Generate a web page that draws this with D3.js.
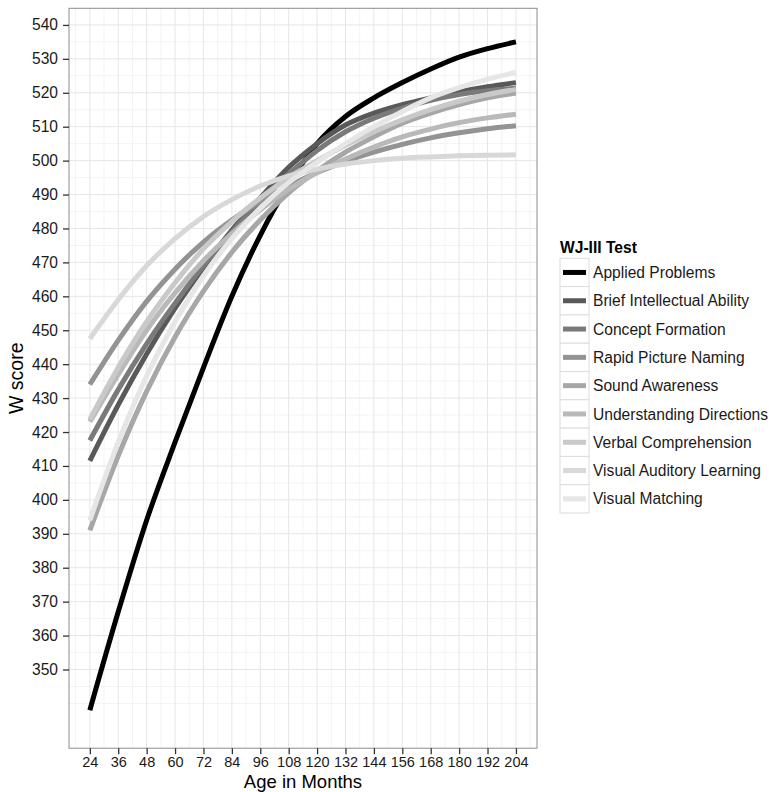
<!DOCTYPE html>
<html>
<head>
<meta charset="utf-8">
<script src="https://cdn.jsdelivr.net/npm/d3@7"></script>
<style>
  body { margin: 0; background: #fff; }
  svg { font-family: 'Liberation Sans', Arial, sans-serif; }
</style>
</head>
<body>
<div id="chart"></div>
<script>
const ages = [24, 36, 48, 60, 72, 84, 96, 108, 120, 132, 144, 156, 168, 180, 192, 204]

const tests = [
  'Applied Problems',
  'Brief Intellectual Ability',
  'Concept Formation',
  'Rapid Picture Naming',
  'Sound Awareness',
  'Understanding Directions',
  'Verbal Comprehension',
  'Visual Auditory Learning',
  'Visual Matching'
]

const appliedProblems = [338, 367, 394, 417, 439, 460, 478, 493, 505, 513, 518.5, 523, 527, 530.5, 533, 535]
const briefIntellectual = [411.5, 428, 443, 456.5, 468.5, 479.5, 489, 498, 505, 510.5, 514, 516.5, 518.5, 520.3, 521.8, 523]
const conceptFormation = [417.5, 432.5, 446, 458, 469, 479, 488, 496, 503, 508.5, 512.5, 515.5, 517.8, 519.5, 520.6, 521.3]
const rapidPictureNaming = [434, 447, 458.5, 468, 476, 482.5, 488, 492.5, 496.5, 499.8, 502.5, 504.8, 506.7, 508.2, 509.4, 510.3]
const soundAwareness = [391, 413, 432, 448, 461.5, 473, 482.5, 490.5, 497, 502.5, 507, 511, 514, 516.5, 518.5, 519.9]
const understandingDirections = [423, 437, 450, 461, 470.5, 478.5, 485.5, 491.5, 496.5, 500.5, 504, 507, 509.3, 511.2, 512.6, 513.7]
const verbalComprehension = [423.7, 439, 452.5, 464, 474, 482, 489, 495, 500, 504.5, 508.5, 512, 515, 517.5, 519.5, 521]
const visualAuditory = [447.5, 459, 469, 477, 483.5, 488.5, 492.5, 495.5, 497.5, 499, 500, 500.7, 501.1, 501.4, 501.6, 501.7]
const visualMatching = [394, 417, 436.5, 452.5, 466, 477, 486, 493.5, 499.5, 505, 510, 514.5, 518.5, 521.5, 524, 526]

const seriesValues = [appliedProblems, briefIntellectual, conceptFormation, rapidPictureNaming,
  soundAwareness, understandingDirections, verbalComprehension, visualAuditory, visualMatching]

const xTicks = d3.range(24, 205, 12)
const yTicks = d3.range(350, 541, 10)

const width = 769
const height = 792

const svg = d3.select('#chart')
  .append('svg')
  .attr('width', width)
  .attr('height', height)

const x = d3.scaleLinear().domain([15.2, 212.9]).range([69, 537])
const y = d3.scaleLinear().domain([326.8, 544.9]).range([748.2, 8.3])

// grey palette like scale_colour_grey(start = 0, end = 0.9)
const colour = d3.scaleOrdinal()
  .domain(tests)
  .range(tests.map((t, i) => {
    const g = Math.pow(i / (tests.length - 1) * Math.pow(0.9, 2.2), 1 / 2.2)
    return d3.rgb(g * 255, g * 255, g * 255).formatHex()
  }))

// panel grid
const minorX = d3.range(18, 212, 6).filter(v => v % 12 !== 0)
const minorY = d3.range(340, 545, 5).filter(v => v % 10 !== 0 || v === 340)

const grid = svg.append('g')
grid.selectAll('.minx').data(minorX).enter().append('line')
  .attr('x1', d => x(d)).attr('x2', d => x(d))
  .attr('y1', y.range()[0]).attr('y2', y.range()[1])
  .attr('stroke', '#f3f3f3')
grid.selectAll('.miny').data(minorY).enter().append('line')
  .attr('y1', d => y(d)).attr('y2', d => y(d))
  .attr('x1', x.range()[0]).attr('x2', x.range()[1])
  .attr('stroke', '#f3f3f3')
grid.selectAll('.majx').data(xTicks).enter().append('line')
  .attr('x1', d => x(d)).attr('x2', d => x(d))
  .attr('y1', y.range()[0]).attr('y2', y.range()[1])
  .attr('stroke', '#e6e6e6')
grid.selectAll('.majy').data(yTicks).enter().append('line')
  .attr('y1', d => y(d)).attr('y2', d => y(d))
  .attr('x1', x.range()[0]).attr('x2', x.range()[1])
  .attr('stroke', '#e6e6e6')

// curves
const line = d3.line()
  .x(d => x(d[0]))
  .y(d => y(d[1]))
  .curve(d3.curveMonotoneX)

svg.append('g')
  .selectAll('path')
  .data(tests.map((t, i) => ({ name: t, values: ages.map((a, j) => [a, seriesValues[i][j]]) })))
  .enter()
  .append('path')
  .attr('d', d => line(d.values))
  .attr('fill', 'none')
  .attr('stroke', d => colour(d.name))
  .attr('stroke-width', 5)

// panel border
svg.append('rect')
  .attr('x', x.range()[0])
  .attr('y', y.range()[1])
  .attr('width', x.range()[1] - x.range()[0])
  .attr('height', y.range()[0] - y.range()[1])
  .attr('fill', 'none')
  .attr('stroke', '#8c8c8c')
  .attr('stroke-width', 1)

// axes
const xAxis = svg.append('g')
  .attr('transform', 'translate(0,' + y.range()[0] + ')')
  .call(d3.axisBottom(x).tickValues(xTicks).tickSize(6).tickPadding(3))
const yAxis = svg.append('g')
  .attr('transform', 'translate(' + x.range()[0] + ',0)')
  .call(d3.axisLeft(y).tickValues(yTicks).tickSize(6).tickPadding(5))

xAxis.select('.domain').remove()
yAxis.select('.domain').remove()
svg.selectAll('.tick line').attr('stroke', '#333').attr('stroke-width', 1.3)
svg.selectAll('.tick text')
  .attr('fill', '#1a1a1a')
  .style('font-size', '14.5px')
  .style('font-family', "'Liberation Sans', Arial, sans-serif")
yAxis.selectAll('.tick text').style('font-size', '15.6px')

// axis titles
svg.append('text')
  .attr('x', (x.range()[0] + x.range()[1]) / 2)
  .attr('y', 787.5)
  .attr('text-anchor', 'middle')
  .style('font-size', '18.5px')
  .text('Age in Months')

svg.append('text')
  .attr('transform', 'translate(22.5,' + (y.range()[0] + y.range()[1]) / 2 + ') rotate(-90)')
  .attr('text-anchor', 'middle')
  .style('font-size', '19.5px')
  .text('W score')

// legend
const legend = svg.append('g').attr('transform', 'translate(560,258.3)')

legend.append('text')
  .attr('x', 0)
  .attr('y', -5)
  .style('font-size', '15.6px')
  .style('font-weight', 'bold')
  .text('WJ-III Test')

const keyH = 28.3
const rows = legend.selectAll('.key')
  .data(tests)
  .enter()
  .append('g')
  .attr('transform', (d, i) => 'translate(0,' + i * keyH + ')')

rows.append('rect')
  .attr('width', 29)
  .attr('height', keyH)
  .attr('fill', '#fff')
  .attr('stroke', '#dcdcdc')
  .attr('stroke-width', 1)

rows.append('line')
  .attr('x1', 3).attr('x2', 26)
  .attr('y1', keyH / 2).attr('y2', keyH / 2)
  .attr('stroke', d => colour(d))
  .attr('stroke-width', 5)

rows.append('text')
  .attr('x', 33)
  .attr('y', keyH / 2)
  .attr('dy', '0.36em')
  .style('font-size', '15.6px')
  .attr('fill', '#1a1a1a')
  .text(d => d)
</script>
</body>
</html>
